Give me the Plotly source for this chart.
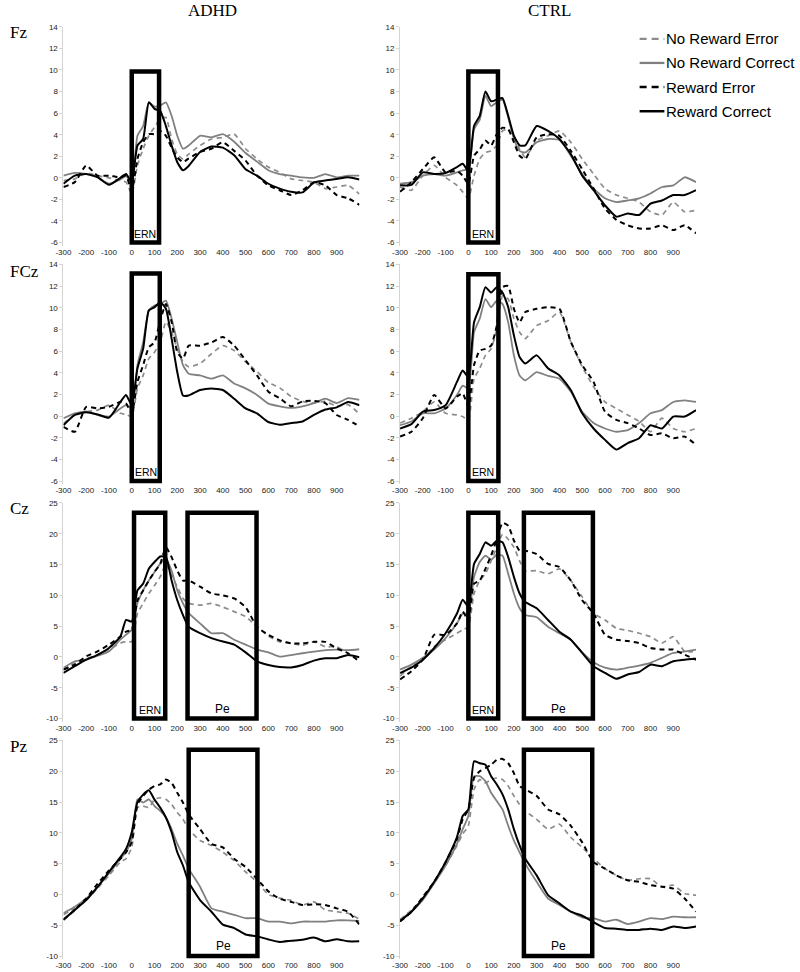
import plotly.graph_objects as go

W, H = 800, 972

# sample times (ms) used for every waveform
TIME_MS = [-300, -250, -200, -150, -100, -50, -25, 0, 25, 50, 75, 100, 125, 150, 175, 200, 225, 250,
           300, 350, 400, 450, 500, 550, 600, 650, 700, 750, 800, 850, 900, 950, 1000]

SERIES = ["No Reward Error", "No Reward Correct", "Reward Error", "Reward Correct"]
GROUPS = ["ADHD", "CTRL"]
ELECTRODES = ["Fz", "FCz", "Cz", "Pz"]
XTICKS = [-300, -200, -100, 0, 100, 200, 300, 400, 500, 600, 700, 800, 900]

# ---- Fz ----
fz_adhd_nre = [-0.25, -0.1, 0.45, 0.2, 0.0, -0.25, -0.4, -1.5, 1.15, 2.7, 3.9, 4.7, 5.45, 5.6, 3.6, 2.2, 1.75, 2.2,
               3.0, 3.6, 3.75, 4.05, 2.7, 1.75, 1.0, 0.5, -0.1, -0.25, -0.4, -1.0, -0.85, -0.7, -1.5]
fz_adhd_nrc = [0.2, 0.45, 0.35, 0.05, -0.55, -0.15, 0.15, -0.4, 3.9, 4.8, 7.0, 6.6, 6.7, 7.0, 5.75, 3.9, 2.7, 3.0,
               3.9, 3.75, 4.05, 3.35, 2.3, 1.5, 0.7, 0.35, 0.2, 0.05, 0.0, 0.35, 0.05, 0.2, 0.2]
fz_adhd_re = [-0.85, -0.4, 1.15, 0.2, 0.2, 0.05, 0.2, -1.2, 1.75, 3.3, 4.05, 4.05, 4.35, 3.9, 2.8, 1.9, 1.45, 1.8,
              2.4, 2.7, 3.3, 2.5, 1.6, 0.2, -0.7, -1.15, -1.6, -1.15, -0.4, -0.7, -1.6, -1.9, -2.5]
fz_adhd_rc = [-0.55, 0.2, 0.35, 0.05, -0.65, 0.0, 0.35, -0.4, 3.0, 3.6, 7.0, 6.4, 6.2, 4.8, 3.0, 1.45, 0.7, 1.1,
              2.4, 2.9, 2.8, 2.1, 0.8, 0.2, -0.55, -1.0, -1.3, -1.35, -0.45, -0.25, -0.1, 0.05, -0.15]

fz_ctrl_nre = [-0.85, -1.15, 0.2, 1.15, 0.05, -0.7, -1.3, -1.9, 0.2, 1.75, 2.35, 2.5, 3.0, 4.35, 4.5, 3.9, 2.65, 1.9,
               3.45, 3.9, 4.35, 3.3, 1.75, 0.35, -1.0, -1.6, -1.9, -2.25, -3.15, -3.45, -2.25, -3.15, -3.0]
fz_ctrl_nrc = [-0.55, -0.4, 0.2, 0.35, 0.2, 0.5, 0.7, 0.8, 4.5, 5.4, 7.6, 6.65, 7.0, 7.25, 5.6, 3.6, 2.5, 2.35,
               3.3, 3.6, 3.5, 2.05, 0.35, -1.0, -1.9, -2.25, -2.1, -1.9, -1.45, -0.85, -0.7, 0.05, -0.4]
fz_ctrl_re = [-1.3, -0.4, 0.8, 1.9, 0.5, 0.65, 0.2, -0.55, 2.05, 2.65, 3.45, 3.0, 4.05, 4.65, 4.5, 3.3, 2.05, 1.75,
              3.75, 4.05, 3.9, 2.5, 0.8, -1.0, -2.85, -3.9, -4.4, -4.7, -4.7, -4.4, -4.85, -4.4, -5.15]
fz_ctrl_rc = [-0.7, -0.65, 0.5, 0.35, 0.45, 1.0, 1.3, 0.65, 4.8, 5.75, 8.0, 7.1, 7.25, 7.4, 5.75, 3.9, 3.0, 3.0,
              4.8, 4.35, 3.6, 2.2, 0.2, -1.15, -2.55, -3.6, -3.3, -3.45, -2.4, -2.1, -1.6, -1.6, -1.15]

# ---- FCz ----
fcz_adhd_nre = [-0.7, 0.1, 0.4, 0.55, 1.0, 0.25, 0.15, -0.05, 2.55, 3.75, 5.3, 5.9, 6.8, 8.7, 7.75, 6.2, 5.0, 4.55,
                4.85, 5.75, 6.5, 6.05, 5.0, 4.1, 3.1, 2.6, 1.8, 1.35, 1.2, 1.35, 0.9, 1.05, 0.2]
fcz_adhd_nrc = [-0.2, 0.25, 0.4, 0.1, -0.05, 0.7, 1.0, 0.7, 4.7, 6.8, 9.75, 10.2, 10.35, 10.65, 9.0, 6.8, 4.7, 3.9,
                3.75, 3.45, 3.75, 3.0, 2.55, 1.95, 1.15, 0.9, 0.75, 0.9, 1.2, 1.6, 1.2, 1.65, 1.5]
fcz_adhd_re = [-1.0, -1.45, 0.85, 0.7, 0.85, 1.3, 1.15, 0.25, 3.15, 4.7, 6.35, 6.8, 8.8, 10.35, 8.7, 5.9, 5.3, 6.5,
               6.5, 6.8, 7.3, 6.5, 5.15, 3.75, 2.25, 1.65, 0.9, 1.35, 1.4, 1.2, 0.1, -0.35, -0.95]
fcz_adhd_rc = [-0.85, 0.1, 0.35, 0.15, -0.15, 1.3, 1.95, 1.0, 4.4, 6.2, 9.75, 10.05, 10.5, 9.9, 7.15, 4.05, 1.9, 1.9,
               2.4, 2.55, 2.4, 1.6, 0.7, 0.25, -0.55, -0.8, -0.65, -0.5, 0.1, 0.6, 0.8, 1.3, 1.0]

fcz_ctrl_nre = [-0.65, -0.2, 0.4, 1.3, 0.25, 0.1, -0.05, -0.35, 3.45, 4.4, 5.6, 6.2, 8.05, 11.1, 10.8, 9.0, 7.75, 7.15,
                8.35, 8.8, 9.6, 6.85, 4.55, 2.7, 1.3, 0.7, 0.1, -0.5, -1.45, -0.2, -1.15, -1.45, -1.15]
fcz_ctrl_nrc = [-0.85, -0.5, 0.25, 0.25, 0.7, 1.95, 2.8, 2.55, 7.75, 9.0, 10.8, 10.05, 10.65, 10.35, 8.65, 5.6, 3.75, 3.3,
                4.05, 3.7, 3.45, 2.25, 0.4, -0.65, -1.15, -1.45, -1.3, -0.65, 0.25, 0.55, 1.3, 1.45, 1.3]
fcz_ctrl_re = [-1.9, -1.45, -0.2, 1.95, 0.7, 1.8, 2.1, 0.85, 4.7, 6.05, 6.2, 6.5, 8.35, 11.9, 12.0, 9.9, 8.65, 9.6,
               9.9, 10.05, 9.9, 6.85, 4.7, 3.15, 0.4, -0.35, -0.65, -1.15, -1.75, -1.6, -2.05, -1.9, -2.65]
fcz_ctrl_rc = [-1.15, -0.75, 0.4, 0.55, 1.0, 3.15, 4.2, 3.6, 8.65, 10.05, 11.9, 11.4, 11.9, 11.4, 10.05, 7.45, 5.45, 4.85,
               5.6, 4.4, 3.75, 2.4, 0.25, -1.15, -2.2, -3.1, -2.5, -2.05, -0.85, -1.15, -0.05, -0.05, 0.55]

# ---- Cz ----
cz_adhd_nre = [-2.05, -1.0, -0.3, 0.35, 1.2, 2.25, 2.5, 2.5, 7.05, 8.7, 10.3, 11.6, 13.0, 15.1, 13.2, 11.4, 9.5, 8.7,
               8.4, 8.7, 8.1, 7.35, 6.55, 4.9, 3.4, 2.45, 2.2, 1.9, 2.45, 1.65, 1.65, 0.6, -0.2]
cz_adhd_nrc = [-1.75, -0.7, -0.45, 0.2, 0.9, 2.8, 3.6, 4.4, 8.7, 10.8, 12.4, 13.8, 15.1, 15.9, 14.0, 10.8, 8.7, 7.1,
               5.45, 3.85, 3.85, 2.8, 2.0, 1.2, 0.75, 0.05, 0.3, 0.6, 0.85, 1.1, 1.2, 1.1, 1.25]
cz_adhd_re = [-2.05, -1.25, 0.1, 0.9, 2.0, 3.3, 4.1, 4.4, 9.2, 10.8, 12.4, 13.8, 15.1, 17.8, 16.2, 14.0, 12.4, 12.4,
              11.4, 10.3, 10.0, 9.5, 8.1, 4.9, 3.6, 2.7, 2.2, 2.2, 2.45, 2.45, 1.4, 0.6, -0.75]
cz_adhd_rc = [-2.6, -1.5, -0.45, 0.35, 1.45, 3.3, 6.0, 5.75, 10.8, 11.9, 14.3, 15.4, 16.3, 16.2, 12.4, 9.2, 6.8, 4.9,
              3.85, 3.05, 2.5, 2.0, 0.75, -0.7, -1.3, -1.65, -1.7, -1.3, -0.6, -0.2, -0.2, 0.3, -0.05]

cz_ctrl_nre = [-3.1, -1.5, -0.45, 1.7, 2.8, 3.85, 4.4, 4.9, 10.3, 12.4, 13.5, 15.6, 17.8, 19.9, 19.1, 17.8, 15.6, 14.0,
               14.0, 13.5, 14.3, 12.4, 9.75, 7.05, 6.0, 4.65, 4.3, 3.85, 3.3, 2.25, 3.3, 0.9, 0.9]
cz_ctrl_nrc = [-2.05, -1.25, -0.15, 1.2, 3.05, 5.45, 7.05, 7.05, 13.0, 15.4, 16.45, 15.8, 16.6, 16.45, 13.5, 10.3, 7.9, 6.8,
               6.45, 4.9, 3.85, 2.8, 0.75, -0.85, -1.75, -2.05, -1.75, -1.4, -0.95, -0.15, 0.65, 0.9, 1.2]
cz_ctrl_re = [-3.65, -2.3, -0.45, 3.6, 3.6, 5.45, 7.35, 6.0, 11.9, 12.4, 14.3, 16.45, 19.1, 21.8, 21.3, 18.9, 17.25, 17.25,
              16.7, 15.1, 14.6, 12.4, 9.2, 7.05, 3.6, 2.8, 2.6, 2.25, 1.45, 1.2, 1.2, 0.35, -0.45]
cz_ctrl_rc = [-2.6, -1.75, -0.45, 1.45, 3.85, 7.05, 9.3, 8.15, 15.1, 16.7, 18.6, 18.05, 18.85, 18.6, 16.2, 13.0, 10.3, 8.9,
              7.9, 6.0, 4.1, 2.8, 0.65, -1.5, -2.6, -3.55, -2.85, -2.45, -1.25, -1.5, -0.7, -0.45, -0.3]

# ---- Pz ----
pz_adhd_nre = [-3.3, -2.25, -0.9, 1.0, 3.1, 5.25, 5.8, 7.65, 14.1, 14.35, 14.1, 15.45, 15.7, 15.45, 14.6, 13.3, 12.2, 10.6,
               8.75, 7.95, 6.85, 5.5, 3.65, 2.05, 0.0, -0.6, -0.95, -1.7, -1.2, -2.5, -2.8, -3.05, -4.0]
pz_adhd_nrc = [-3.05, -2.0, -0.65, 1.25, 3.4, 5.8, 6.85, 9.0, 15.45, 14.9, 15.45, 14.35, 13.55, 12.5, 10.6, 8.2, 6.3, 4.2,
               1.25, -2.25, -2.8, -3.3, -3.85, -3.85, -4.4, -4.4, -4.7, -4.4, -4.4, -4.4, -4.2, -4.2, -4.3]
pz_adhd_re = [-4.1, -2.5, -0.65, 1.75, 3.9, 5.8, 6.85, 8.5, 14.6, 16.0, 17.0, 17.6, 17.85, 18.65, 18.1, 16.5, 14.9, 13.0,
              10.6, 8.2, 7.65, 5.8, 4.45, 2.55, 0.5, -0.7, -1.2, -1.7, -1.6, -1.7, -2.25, -2.8, -4.9]
pz_adhd_rc = [-4.1, -2.5, -0.9, 1.25, 3.65, 6.05, 7.4, 10.1, 15.0, 16.2, 16.9, 15.4, 14.1, 12.5, 10.1, 6.85, 4.7, 2.0,
              -0.9, -2.8, -4.9, -5.45, -6.5, -6.8, -7.3, -7.7, -7.5, -7.35, -7.0, -7.6, -7.25, -7.6, -7.6]

pz_ctrl_nre = [-4.1, -2.5, -0.65, 2.05, 4.7, 7.95, 9.8, 11.15, 17.05, 18.65, 18.1, 18.65, 18.9, 18.65, 17.6, 16.0, 14.6, 13.55,
               12.2, 10.6, 11.4, 9.25, 7.65, 5.8, 4.2, 3.1, 2.3, 2.55, 2.55, 1.25, 1.5, 0.15, -0.1]
pz_ctrl_nrc = [-4.1, -2.8, -0.9, 1.8, 4.7, 8.2, 10.6, 12.75, 19.2, 19.2, 18.4, 16.5, 15.15, 13.8, 11.15, 8.75, 6.85, 5.0,
               2.05, -0.65, -1.7, -2.8, -3.7, -3.85, -4.4, -4.1, -4.8, -4.4, -3.85, -4.0, -3.6, -3.7, -3.7]
pz_ctrl_re = [-4.4, -2.8, -0.4, 2.05, 5.25, 9.0, 12.2, 13.8, 18.9, 20.0, 20.5, 21.05, 21.85, 22.0, 21.3, 19.7, 17.6, 17.05,
              16.0, 13.8, 13.0, 11.15, 8.45, 5.25, 4.2, 3.1, 2.3, 2.05, 1.5, 1.25, 0.95, -0.65, -2.8]
pz_ctrl_rc = [-4.3, -2.8, -0.65, 2.05, 5.25, 9.3, 12.75, 13.8, 21.6, 21.3, 21.05, 19.2, 17.85, 16.25, 13.8, 10.6, 7.95, 5.8,
              3.1, -0.1, -1.45, -2.8, -3.45, -4.5, -5.45, -5.55, -5.75, -5.75, -5.55, -5.75, -5.2, -5.45, -5.2]

# component windows: (label, start ms, end ms, top µV)
fz_adhd_win = [("ERN", 0, 120, 9.85)]
fz_ctrl_win = [("ERN", 0, 130, 9.85)]
fcz_adhd_win = [("ERN", 0, 123, 13.15)]
fcz_ctrl_win = [("ERN", 0, 132, 13.1)]
cz_adhd_win = [("ERN", 10, 147, 23.4), ("Pe", 245, 548, 23.4)]
cz_ctrl_win = [("ERN", 0, 131, 23.4), ("Pe", 244, 547, 23.4)]
pz_adhd_win = [("Pe", 250, 552, 23.5)]
pz_ctrl_win = [("Pe", 244, 544, 23.5)]

panels = {
    ("Fz", "ADHD"): ([fz_adhd_nre, fz_adhd_nrc, fz_adhd_re, fz_adhd_rc], fz_adhd_win),
    ("Fz", "CTRL"): ([fz_ctrl_nre, fz_ctrl_nrc, fz_ctrl_re, fz_ctrl_rc], fz_ctrl_win),
    ("FCz", "ADHD"): ([fcz_adhd_nre, fcz_adhd_nrc, fcz_adhd_re, fcz_adhd_rc], fcz_adhd_win),
    ("FCz", "CTRL"): ([fcz_ctrl_nre, fcz_ctrl_nrc, fcz_ctrl_re, fcz_ctrl_rc], fcz_ctrl_win),
    ("Cz", "ADHD"): ([cz_adhd_nre, cz_adhd_nrc, cz_adhd_re, cz_adhd_rc], cz_adhd_win),
    ("Cz", "CTRL"): ([cz_ctrl_nre, cz_ctrl_nrc, cz_ctrl_re, cz_ctrl_rc], cz_ctrl_win),
    ("Pz", "ADHD"): ([pz_adhd_nre, pz_adhd_nrc, pz_adhd_re, pz_adhd_rc], pz_adhd_win),
    ("Pz", "CTRL"): ([pz_ctrl_nre, pz_ctrl_nrc, pz_ctrl_re, pz_ctrl_rc], pz_ctrl_win),
}

# line look per condition: colour, dash, width
STYLE = [("#8c8c8c", "5px,4px", 1.7), ("#808080", "solid", 1.8),
         ("#000000", "5px,4px", 2.0), ("#000000", "solid", 2.0)]

# pixel geometry of the panels (left/right of plot, top tick / bottom tick)
COL_PX = {"ADHD": (56, 355), "CTRL": (396, 695)}
ROW_PX = {"Fz": (23, 240), "FCz": (262, 480), "Cz": (502, 719), "Pz": (741, 958)}
YSCALE = {"Fz": (-6, 14, 2), "FCz": (-6, 14, 2), "Cz": (-10, 25, 5), "Pz": (-10, 25, 5)}
PAD = 3  # px below the lowest tick so the box edges are not clipped

SANS = "Arial, Liberation Sans, sans-serif"
SERIF = "Times New Roman, Liberation Serif, serif"

fig = go.Figure()
shapes, annotations = [], []
layout = {}

k = 0
for el in ELECTRODES:
    for grp in GROUPS:
        k += 1
        waves, windows = panels[(el, grp)]
        sfx = "" if k == 1 else str(k)
        xr, yr = "x" + sfx, "y" + sfx
        ymin, ymax, dt = YSCALE[el]
        top, bot = ROW_PX[el]
        ylo = ymin - PAD * (ymax - ymin) / (bot - top)
        x0, x1 = COL_PX[grp]
        yticks = list(range(ymin, ymax + 1, dt))

        layout["xaxis" + sfx] = dict(
            domain=[x0 / W, x1 / W], range=[-300, 1000], anchor=yr,
            tickvals=XTICKS, ticktext=[str(v) for v in XTICKS],
            showline=False, showgrid=False, zeroline=False, ticks="",
            tickfont=dict(family=SANS, size=8, color="#222222"),
        )
        layout["yaxis" + sfx] = dict(
            domain=[1 - (bot + PAD) / H, 1 - top / H], range=[ylo, ymax], anchor=xr,
            tickvals=yticks, ticktext=[str(v) for v in yticks],
            showline=True, linecolor="#d4d4d4", linewidth=1,
            ticks="outside", ticklen=3, tickcolor="#d4d4d4",
            showgrid=False, zeroline=False,
            tickfont=dict(family=SANS, size=8, color="#222222"),
        )

        for name, vals, (col, dash, wid) in zip(SERIES, waves, STYLE):
            fig.add_trace(go.Scatter(
                x=TIME_MS, y=vals, mode="lines", name=name, showlegend=False,
                line=dict(color=col, dash=dash, width=wid, shape="spline", smoothing=0.5),
                xaxis=xr, yaxis=yr,
            ))

        for label, ws, we, wtop in windows:
            shapes.append(dict(type="rect", xref=xr, yref=yr, x0=ws, x1=we, y0=ymin, y1=wtop,
                               line=dict(color="black", width=4.5), fillcolor="rgba(0,0,0,0)"))
            annotations.append(dict(text=label, xref=xr, yref=yr, x=(ws + we) / 2, y=ymin,
                                    xanchor="center", yanchor="bottom", yshift=1, showarrow=False,
                                    font=dict(family=SANS, size=10.5 if label == "ERN" else 12, color="black")))

# group titles and electrode names
for grp, xpx in zip(GROUPS, [207, 547]):
    annotations.append(dict(text=grp, xref="paper", yref="paper", x=xpx / W, y=1 - 7 / H,
                            xanchor="center", yanchor="middle", showarrow=False,
                            font=dict(family=SERIF, size=17, color="black")))
for el, ypx in zip(ELECTRODES, [29, 269, 508, 747]):
    annotations.append(dict(text=el, xref="paper", yref="paper", x=0, y=1 - ypx / H,
                            xanchor="left", yanchor="middle", showarrow=False,
                            font=dict(family=SERIF, size=17, color="black")))

# legend (top right)
for i, (name, (col, dash, wid)) in enumerate(zip(SERIES, STYLE)):
    ypx = 35 + i * 24.3
    shapes.append(dict(type="line", xref="paper", yref="paper", x0=638 / W, x1=663 / W,
                       y0=1 - ypx / H, y1=1 - ypx / H,
                       line=dict(color=col, width=wid + 0.5, dash="7px,5px" if dash != "solid" else "solid")))
    annotations.append(dict(text=name, xref="paper", yref="paper", x=663 / W, y=1 - ypx / H,
                            xanchor="left", yanchor="middle", showarrow=False,
                            font=dict(family=SANS, size=15, color="black")))

fig.update_layout(
    width=W, height=H, margin=dict(l=0, r=0, t=0, b=0),
    paper_bgcolor="white", plot_bgcolor="white",
    showlegend=False, shapes=shapes, annotations=annotations, **layout,
)

# the page body has a default margin; drop it so the figure sits at the window origin
fig.write_html("out.html", config={"displayModeBar": False},
               post_script="document.body.style.margin='0';")
